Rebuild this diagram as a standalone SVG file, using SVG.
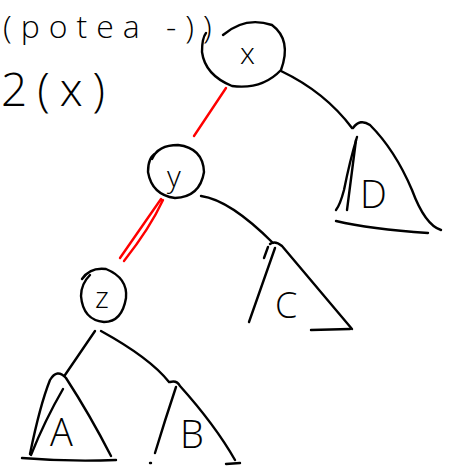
<svg xmlns="http://www.w3.org/2000/svg" width="458" height="466" viewBox="0 0 458 466">
<style>
.s{fill:none;stroke:#000;stroke-width:2.4;stroke-linecap:round;stroke-linejoin:round}
.r{fill:none;stroke:#ff0000;stroke-width:2.4;stroke-linecap:round}
.t{font-family:"Open Sans","DejaVu Sans",sans-serif;font-weight:300;fill:#000}
</style>
<rect width="458" height="466" fill="#fff"/>
<g id="notes">
<text class="t" x="3" y="38" font-size="32" letter-spacing="9">(potea -))</text>
<text class="t" x="1" y="106" font-size="46" letter-spacing="-1">2 ( x )</text>
</g>
<g id="connectors">
<path class="r" d="M226,88 L194,136 M224,91 L196,133"/>
<path class="s" d="M281,71 Q325,92 352,128"/>
<path class="r" d="M161,199 L120,258 M163,200 Q150,228 124,261"/>
<path class="s" d="M201,196 Q230,200 273,243"/>
<path class="s" d="M95,331 L65,375"/>
<path class="s" d="M101,331 Q150,358 169,382"/>
</g>
<g id="node-x">
<path class="s" d="M223,35 Q245,16 272,25 Q292,40 281,70 Q262,90 232,86 Q205,75 202,52 Q202,38 206,33"/>
<text class="t" x="240" y="64" font-size="30">x</text>
</g>
<g id="node-y">
<path class="s" d="M152,159 Q158,145 178,145 Q203,148 204,172 Q200,197 175,198 Q152,195 148,172 Q148,157 156,153"/>
<text class="t" x="167" y="187" font-size="30">y</text>
</g>
<g id="node-z">
<path class="s" d="M82,279 Q90,267 106,269 Q128,278 126,298 Q122,322 104,322 Q83,320 81,296 Q81,284 90,275"/>
<text class="t" x="95" y="308" font-size="30">z</text>
</g>
<g id="tree-D">
<path class="s" d="M353,128 Q360,118 370,125 Q395,150 412,190 Q425,225 441,230"/>
<path class="s" d="M357,137 Q350,160 344,190 Q340,205 336,210"/>
<path class="s" d="M356,140 L347,210"/>
<path class="s" d="M336,221 Q370,229 428,233"/>
<text class="t" x="360" y="208" font-size="38">D</text>
</g>
<g id="tree-C">
<path class="s" d="M270,244 Q275,240 282,246 Q315,285 352,329"/>
<path class="s" d="M275,248 Q262,285 249,322"/>
<path class="s" d="M268,247 L264,258"/>
<path class="s" d="M311,330 L350,329"/>
<text class="t" x="275" y="318" font-size="36">C</text>
</g>
<g id="tree-A">
<path class="s" d="M30,454 Q40,405 50,380 Q57,368 66,378 Q90,415 111,456"/>
<path class="s" d="M63,389 Q45,420 31,455"/>
<path class="s" d="M22,458 Q70,462 116,460"/>
<text class="t" x="50" y="446" font-size="38">A</text>
</g>
<g id="tree-B">
<path class="s" d="M170,382 Q177,380 180,386 Q215,425 235,460"/>
<path class="s" d="M176,387 Q165,420 155,453"/>
<path class="s" d="M226,464 L240,463"/>
<path class="s" d="M150,463 L151,463"/>
<text class="t" x="180" y="448" font-size="38">B</text>
</g>
</svg>
